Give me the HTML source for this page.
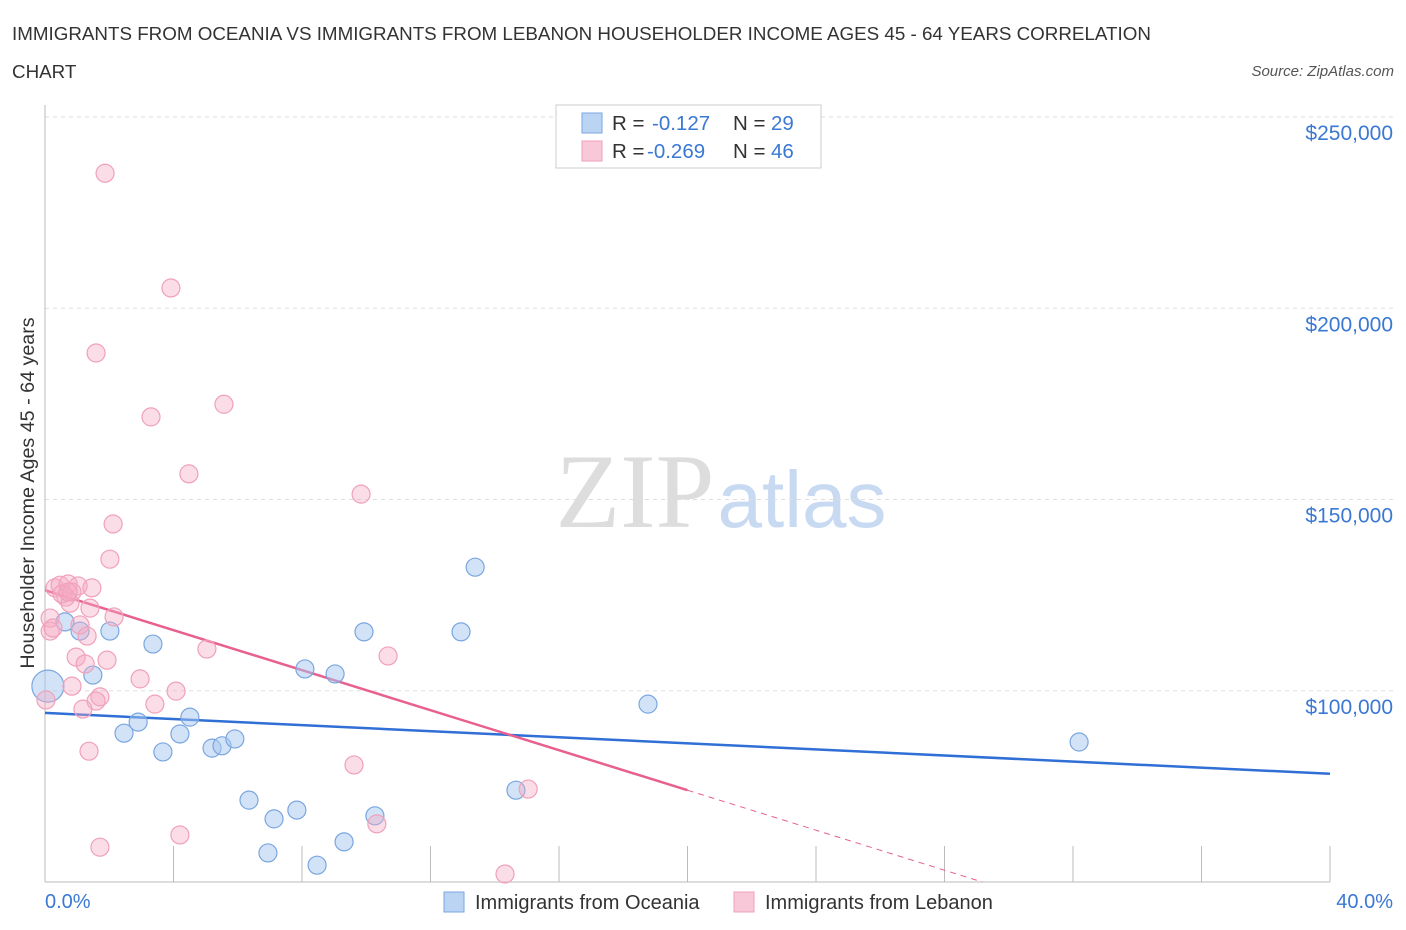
<!DOCTYPE html>
<html><head><meta charset="utf-8">
<style>
body{margin:0;background:#fff;font-family:"Liberation Sans",sans-serif;}
svg{display:block}
</style></head>
<body>
<svg id="chart" width="1406" height="930">
<text x="12" y="40" font-size="18.8" fill="#333">IMMIGRANTS FROM OCEANIA VS IMMIGRANTS FROM LEBANON HOUSEHOLDER INCOME AGES 45 - 64 YEARS CORRELATION</text>
<text x="12" y="78" font-size="18.8" fill="#333">CHART</text>
<text x="1394" y="76" font-size="15" fill="#555" font-style="italic" text-anchor="end">Source: ZipAtlas.com</text>
<g>
<text x="635" y="527" font-size="106" fill="#ddd" font-family="Liberation Serif,serif" text-anchor="middle">ZIP</text>
<text x="802" y="527" font-size="80" fill="#c8daf2" text-anchor="middle">atlas</text>
</g>
<g id="grid"></g>
<g id="axes"></g>
<g id="lines"></g>
<g id="points"></g>
<text transform="translate(34,493) rotate(-90)" font-size="19.7" fill="#333" text-anchor="middle">Householder Income Ages 45 - 64 years</text>
<text x="45" y="908" font-size="20" fill="#3a78d4">0.0%</text>
<text x="1393" y="908" font-size="20" fill="#3a78d4" text-anchor="end">40.0%</text>
<g>
<rect x="556" y="105" width="265" height="63" fill="#fff" stroke="#ccc"/>
<rect x="582" y="113" width="20" height="20" fill="#bcd4f4" stroke="#7aa6e0"/>
<rect x="582" y="141" width="20" height="20" fill="#f8c8d8" stroke="#f0a0bb"/>
<text x="612" y="130" font-size="20.5" fill="#333">R = </text><text x="652" y="130" font-size="20.5" fill="#3a78d4">-0.127</text>
<text x="733" y="130" font-size="20.5" fill="#333">N = </text><text x="771" y="130" font-size="20.5" fill="#3a78d4">29</text>
<text x="612" y="158" font-size="20.5" fill="#333">R = </text><text x="647" y="158" font-size="20.5" fill="#3a78d4">-0.269</text>
<text x="733" y="158" font-size="20.5" fill="#333">N = </text><text x="771" y="158" font-size="20.5" fill="#3a78d4">46</text>
</g>
<g>
<rect x="444" y="892" width="20" height="20" fill="#bcd4f4" stroke="#7aa6e0"/>
<text x="475" y="909" font-size="20" fill="#333">Immigrants from Oceania</text>
<rect x="734" y="892" width="20" height="20" fill="#f8c8d8" stroke="#f0a0bb"/>
<text x="765" y="909" font-size="20" fill="#333">Immigrants from Lebanon</text>
</g>
</svg>
<script>
const yTicks=[100000,150000,200000,250000];
const yTickLabels=["$100,000","$150,000","$200,000","$250,000"];
const xTicks=[0,4,8,12,16,20,24,28,32,36,40];
const oceaniaX=[0.09,0.62,1.09,1.49,2.02,2.46,2.90,3.36,3.67,4.20,4.51,5.20,5.51,5.91,6.35,7.13,6.94,7.84,8.09,8.47,9.03,9.31,9.93,10.27,12.95,13.39,14.66,18.77,32.19];
const oceaniaY=[101200,118000,115600,104100,115600,88900,91800,112200,84000,88700,93100,85000,85600,87400,71400,66500,57600,68800,105700,54400,104400,60500,115400,67300,115400,132300,74000,96500,86600];
const lebanonX=[1.87,3.92,1.59,5.57,3.30,4.48,9.84,2.12,2.02,0.31,0.47,0.72,1.03,1.46,0.65,0.53,0.78,1.40,0.16,1.09,0.16,1.31,2.15,5.04,10.68,0.97,1.93,1.25,2.96,4.08,0.84,1.71,1.59,1.18,3.42,0.03,1.37,9.62,4.20,10.33,1.71,15.04,14.32,0.25,0.84,0.72];
const lebanonY=[235300,205300,188300,174900,171600,156700,151400,143600,134400,126900,127600,127900,127400,126900,124500,125300,122900,121600,119000,117200,115600,114300,119300,110900,109100,108800,108000,107000,103100,99900,101200,98400,97300,95200,96500,97600,84200,80600,62300,65200,59100,74300,52100,116400,125800,125800];
const oceaniaTrend=[94200,78300];
const lebanonTrend=[126300,74000];
const NS="http://www.w3.org/2000/svg";
const X0=45,X1=1330,Y0=882,Y1=117;
const xs=v=>X0+(v/40)*(X1-X0);
const ys=v=>Y0-(v-50000)/200000*(Y0-Y1);
function mk(tag,attrs,parent){const e=document.createElementNS(NS,tag);for(const k in attrs)e.setAttribute(k,attrs[k]);document.getElementById(parent).appendChild(e);return e;}
yTicks.forEach((t,i)=>{
 const g=mk('line',{x1:X0,x2:1395,y1:ys(t),y2:ys(t),stroke:'#ddd','stroke-dasharray':'4,4'},'grid');
 
 
 const l=mk('text',{x:1393,y:ys(t)+23,'font-size':21,fill:'#3a78d4','text-anchor':'end'},'grid');
 l.textContent=yTickLabels[i];
 
 
});
const ax=mk('line',{x1:X0,x2:X0,y1:105,y2:Y0,stroke:'#bbb'},'axes');


const bx=mk('line',{x1:X0,x2:X1,y1:Y0,y2:Y0,stroke:'#bbb'},'axes');


xTicks.forEach(t=>{
 const tk=mk('line',{x1:xs(t),x2:xs(t),y1:Y0,y2:Y0-36,stroke:'#bbb'},'axes');
 
 
});
oceaniaX.forEach((x,i)=>{
 const c=mk('circle',{cx:xs(x),cy:ys(oceaniaY[i]),r:i==0?16:9,fill:'rgba(168,200,240,0.5)',stroke:'#7aa6e0','stroke-width':1.2},'points');
 
 
});
lebanonX.forEach((x,i)=>{
 const c=mk('circle',{cx:xs(x),cy:ys(lebanonY[i]),r:9,fill:'rgba(245,170,195,0.4)',stroke:'#f0a0bb','stroke-width':1.2},'points');
 
 
});
const bl=mk('line',{x1:xs(0),y1:ys(oceaniaTrend[0]),x2:xs(40),y2:ys(oceaniaTrend[1]),stroke:'#2f6fd6','stroke-width':2.5},'lines');


const pl=mk('line',{x1:xs(0),y1:ys(lebanonTrend[0]),x2:xs(20),y2:ys(lebanonTrend[1]),stroke:'#e8608f','stroke-width':2.5},'lines');


const slope=(lebanonTrend[1]-lebanonTrend[0])/20;
const xEnd=(50000-lebanonTrend[0])/slope;
const pd=mk('line',{x1:xs(20),y1:ys(lebanonTrend[1]),x2:xs(xEnd),y2:ys(50000),stroke:'#e8608f','stroke-width':1,'stroke-dasharray':'6,5'},'lines');


</script>
</body></html>
